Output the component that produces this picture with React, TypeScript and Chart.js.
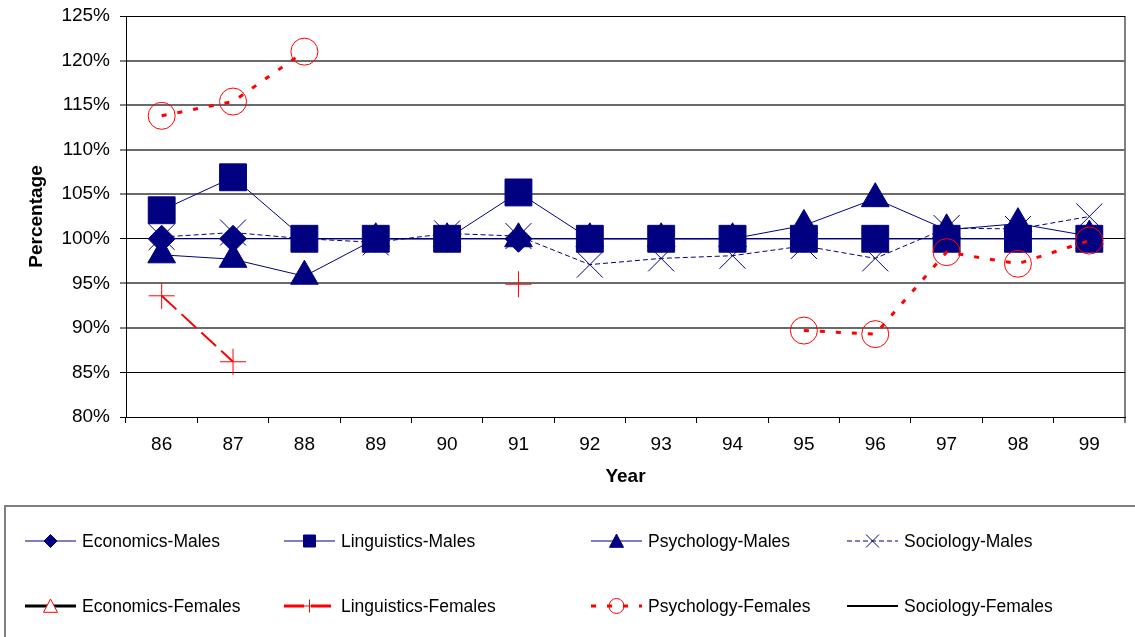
import React, { useEffect, useRef } from 'react';
import { Chart, registerables } from 'chart.js';

Chart.register(...registerables);

const FONT = '"Liberation Sans", Arial, Helvetica, sans-serif';
const NAVY = '#000080';
const RED = '#FF0000';

// ---- data ----
const years = ['86', '87', '88', '89', '90', '91', '92', '93', '94', '95', '96', '97', '98', '99'];
const yMin = 80;
const yMax = 125;
const yStep = 5;
const crispGridValues = [80, 85, 100, 125];

const economicsMales = [100, 100, 100, 100, 100, 100, 100, 100, 100, 100, 100, 100, 100, 100];
const linguisticsMales = [103.2, 106.9, 100, 100, 100, 105.2, 100, 100, 100, 100, 100, 100, 100, 100];
const psychologyMales = [98.2, 97.7, 95.8, 100, 100, 100, 100, 100, 100, 101.5, 104.5, 101.0, 101.7, 100.3];
const sociologyMales = [100.2, 100.7, 100.0, 99.6, 100.6, 100.3, 97.1, 97.8, 98.1, 99.2, 97.8, 101.2, 101.1, 102.5];
const economicsFemales = [null, null, null, null, null, null, null, null, null, null, null, null, null, null];
const linguisticsFemales = [93.6, 86.2, null, null, null, 94.9, null, null, null, null, null, null, null, null];
const psychologyFemales = [113.8, 115.4, 121.0, null, null, null, null, null, null, 89.7, 89.3, 98.5, 97.2, 99.8];
const sociologyFemales = [null, null, null, null, null, null, null, null, null, null, null, null, null, null];

const seriesLabels = [
  'Economics-Males',
  'Linguistics-Males',
  'Psychology-Males',
  'Sociology-Males',
  'Economics-Females',
  'Linguistics-Females',
  'Psychology-Females',
  'Sociology-Females',
];

// ---- legend layout (styles only) ----
const legendCols = [25, 284, 591, 847];
const legendRows = [541, 606];
const legendSampleLen = 51;
const legendMarkers: any[] = [
  { style: 'rectRot', r: 6.5, stroke: NAVY, fill: NAVY },
  { style: 'rect', r: 6, stroke: NAVY, fill: NAVY },
  { style: 'triangle', r: 7, stroke: NAVY, fill: NAVY },
  { style: 'crossRot', r: 6.5, stroke: NAVY, fill: 'rgba(0,0,0,0)' },
  { style: 'triangle', r: 7, stroke: RED, fill: '#FFFFFF' },
  { style: 'cross', r: 6.5, stroke: RED, fill: 'rgba(0,0,0,0)' },
  { style: 'circle', r: 7.5, stroke: RED, fill: 'rgba(0,0,0,0)' },
  null,
];

function drawMarker(ctx: CanvasRenderingContext2D, m: any, x: number, y: number) {
  if (!m) return;
  const r = m.r;
  ctx.save();
  ctx.setLineDash([]);
  ctx.lineWidth = 1;
  ctx.strokeStyle = m.stroke;
  ctx.fillStyle = m.fill;
  ctx.beginPath();
  switch (m.style) {
    case 'rectRot':
      ctx.moveTo(x, y - r);
      ctx.lineTo(x + r, y);
      ctx.lineTo(x, y + r);
      ctx.lineTo(x - r, y);
      ctx.closePath();
      ctx.fill();
      ctx.stroke();
      break;
    case 'rect':
      ctx.rect(x - r, y - r, 2 * r, 2 * r);
      ctx.fill();
      ctx.stroke();
      break;
    case 'triangle':
      ctx.moveTo(x, y - r);
      ctx.lineTo(x + r, y + r * 0.9);
      ctx.lineTo(x - r, y + r * 0.9);
      ctx.closePath();
      ctx.fill();
      ctx.stroke();
      break;
    case 'crossRot':
      ctx.moveTo(x - r, y - r);
      ctx.lineTo(x + r, y + r);
      ctx.moveTo(x + r, y - r);
      ctx.lineTo(x - r, y + r);
      ctx.stroke();
      break;
    case 'cross':
      ctx.moveTo(x - r, y);
      ctx.lineTo(x + r, y);
      ctx.moveTo(x, y - r);
      ctx.lineTo(x, y + r);
      ctx.stroke();
      break;
    case 'circle':
      ctx.arc(x, y, r, 0, Math.PI * 2);
      ctx.fill();
      ctx.stroke();
      break;
  }
  ctx.restore();
}

const boxLegendPlugin = {
  id: 'boxLegend',
  afterDraw(chart: any) {
    const ctx: CanvasRenderingContext2D = chart.ctx;
    ctx.save();
    ctx.strokeStyle = '#808080';
    ctx.lineWidth = 2;
    ctx.setLineDash([]);
    ctx.strokeRect(5, 506, 1140, 200);
    chart.data.datasets.forEach((ds: any, i: number) => {
      const col = i % 4;
      const row = Math.floor(i / 4);
      const x0 = legendCols[col];
      const y = legendRows[row];
      ctx.save();
      ctx.strokeStyle = ds.borderColor;
      ctx.lineWidth = ds.legendLineWidth || ds.borderWidth;
      ctx.setLineDash(ds.borderDash || []);
      ctx.beginPath();
      ctx.moveTo(x0, y);
      ctx.lineTo(x0 + legendSampleLen, y);
      ctx.stroke();
      ctx.restore();
      drawMarker(ctx, legendMarkers[i], x0 + legendSampleLen / 2, y);
      ctx.fillStyle = '#000';
      ctx.font = `17.5px ${FONT}`;
      ctx.textAlign = 'left';
      ctx.textBaseline = 'middle';
      ctx.fillText(ds.label, x0 + legendSampleLen + 6, y + 1);
    });
    ctx.restore();
  },
};

export default function App() {
  const ref = useRef<HTMLCanvasElement | null>(null);

  useEffect(() => {
    if (!ref.current) return;
    const chart = new Chart(ref.current, {
      type: 'line',
      data: {
        labels: years,
        datasets: [
          {
            label: seriesLabels[0],
            data: economicsMales,
            borderColor: NAVY,
            backgroundColor: NAVY,
            borderWidth: 1,
            pointStyle: 'rectRot',
            pointRadius: 13.5,
            pointBackgroundColor: NAVY,
            pointBorderColor: NAVY,
            pointBorderWidth: 1,
            order: 8,
          },
          {
            label: seriesLabels[1],
            data: linguisticsMales,
            borderColor: NAVY,
            backgroundColor: NAVY,
            borderWidth: 1,
            pointStyle: 'rect',
            pointRadius: 19,
            pointBackgroundColor: NAVY,
            pointBorderColor: NAVY,
            pointBorderWidth: 1,
            order: 7,
          },
          {
            label: seriesLabels[2],
            data: psychologyMales,
            borderColor: NAVY,
            backgroundColor: NAVY,
            borderWidth: 1,
            pointStyle: 'triangle',
            pointRadius: 16,
            pointBackgroundColor: NAVY,
            pointBorderColor: NAVY,
            pointBorderWidth: 1,
            order: 6,
          },
          {
            label: seriesLabels[3],
            data: sociologyMales,
            borderColor: NAVY,
            backgroundColor: NAVY,
            borderWidth: 1,
            borderDash: [5, 3],
            pointStyle: 'crossRot',
            pointRadius: 18.4,
            pointBorderColor: NAVY,
            pointBorderWidth: 1,
            order: 5,
          },
          {
            label: seriesLabels[4],
            data: economicsFemales,
            borderColor: '#000000',
            backgroundColor: '#FFFFFF',
            borderWidth: 3,
            pointStyle: 'triangle',
            pointRadius: 16,
            pointBackgroundColor: '#FFFFFF',
            pointBorderColor: RED,
            pointBorderWidth: 1,
            order: 4,
          },
          {
            label: seriesLabels[5],
            data: linguisticsFemales,
            borderColor: RED,
            backgroundColor: RED,
            borderWidth: 2,
            legendLineWidth: 3,
            borderDash: [20, 7],
            pointStyle: 'cross',
            pointRadius: 13,
            pointBorderColor: RED,
            pointBorderWidth: 1,
            order: 3,
          } as any,
          {
            label: seriesLabels[6],
            data: psychologyFemales,
            borderColor: RED,
            backgroundColor: 'rgba(0,0,0,0)',
            borderWidth: 3,
            borderDash: [5, 11],
            pointStyle: 'circle',
            pointRadius: 13.5,
            pointBackgroundColor: 'rgba(0,0,0,0)',
            pointBorderColor: RED,
            pointBorderWidth: 1,
            order: 2,
          },
          {
            label: seriesLabels[7],
            data: sociologyFemales,
            borderColor: '#000000',
            backgroundColor: '#000000',
            borderWidth: 2,
            pointRadius: 0,
            order: 1,
          },
        ],
      },
      options: {
        responsive: false,
        animation: false,
        events: [],
        spanGaps: false,
        layout: { autoPadding: false, padding: { left: 0, right: 10, top: 16, bottom: 137 } },
        plugins: {
          legend: { display: false },
          tooltip: { enabled: false },
        },
        scales: {
          x: {
            type: 'category',
            offset: true,
            grid: {
              offset: true,
              drawOnChartArea: true,
              color: (c: any) => (c.type === 'tick' ? 'rgba(0,0,0,0)' : '#808080'),
              tickColor: (c: any) => (c.type === 'tick' ? '#000000' : '#808080'),
              tickLength: 6,
              lineWidth: (c: any) => (c.type === 'tick' ? 1 : 2),
            },
            border: { display: true, color: '#000000', width: 1 },
            ticks: {
              color: '#000000',
              font: { family: FONT, size: 19 },
              padding: 10,
              maxRotation: 0,
              autoSkip: false,
            },
            title: {
              display: true,
              text: 'Year',
              color: '#000000',
              font: { family: FONT, size: 19, weight: 'bold' },
              padding: { top: 0, bottom: 12 },
            },
            afterFit: (s: any) => {
              s.height = 83;
              s.paddingLeft = 0;
              s.paddingRight = 0;
            },
          },
          y: {
            min: yMin,
            max: yMax,
            ticks: {
              stepSize: yStep,
              callback: (v: any) => `${v}%`,
              color: '#000000',
              font: { family: FONT, size: 19 },
              padding: 10,
            },
            grid: {
              color: (c: any) => (c.tick && crispGridValues.includes(c.tick.value) ? '#000000' : '#6a6a6a'),
              lineWidth: (c: any) => (c.tick && crispGridValues.includes(c.tick.value) ? 1 : 2),
              tickLength: 6,
              tickColor: '#000000',
              tickWidth: 1,
            },
            border: { display: true, color: '#000000', width: 1 },
            title: {
              display: true,
              text: 'Percentage',
              color: '#000000',
              font: { family: FONT, size: 19, weight: 'bold' },
              padding: { top: 25, bottom: 0 },
            },
            afterFit: (s: any) => {
              s.width = 126;
              s.paddingTop = 0;
              s.paddingBottom = 0;
            },
          },
        },
      } as any,
      plugins: [boxLegendPlugin],
    });
    return () => chart.destroy();
  }, []);

  return (
    <div style={{ position: 'absolute', left: 0, top: 0, width: 1135, height: 637, background: '#fff' }}>
      <canvas ref={ref} width={1135} height={637} style={{ display: 'block' }} />
    </div>
  );
}
